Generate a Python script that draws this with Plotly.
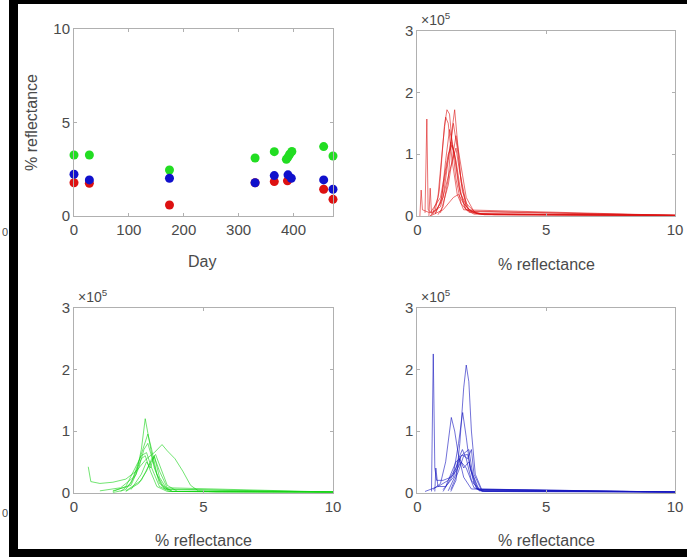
import plotly.graph_objects as go

W, H = 687, 557

# ---------------- Data ----------------
# Panel 1: % reflectance vs Day
days_green = [0, 28, 174, 330, 365, 387, 390, 393, 397, 455, 472]
refl_green = [3.26, 3.26, 2.46, 3.10, 3.44, 3.03, 3.15, 3.30, 3.45, 3.71, 3.21]
days_blue = [0, 28, 174, 330, 365, 390, 396, 455, 472]
refl_blue = [2.23, 1.93, 2.02, 1.78, 2.16, 2.20, 2.02, 1.93, 1.43]
days_red = [0, 28, 174, 330, 365, 389, 455, 472]
refl_red = [1.78, 1.75, 0.59, 1.78, 1.84, 1.88, 1.43, 0.89]

# Panels 2-4: histograms (x = % reflectance, y = counts in units of 1e5)
red_curves = [
    ([0.5, 0.7, 0.85, 0.95, 1.05, 1.15, 1.25, 1.35, 1.5, 1.7, 2.0, 2.5, 4.0, 10],
     [0.0, 0.1, 0.4, 0.9, 1.45, 1.72, 1.65, 1.2, 0.6, 0.2, 0.06, 0.03, 0.02, 0.01]),
    ([0.8, 1.0, 1.2, 1.35, 1.45, 1.55, 1.7, 1.9, 2.2, 3.0, 10],
     [0.02, 0.15, 0.6, 1.4, 1.72, 1.3, 0.55, 0.15, 0.05, 0.02, 0.01]),
    ([0.7, 1.0, 1.2, 1.4, 1.55, 1.75, 2.0, 2.5, 10],
     [0.05, 0.3, 0.9, 1.5, 1.1, 0.4, 0.1, 0.03, 0.01]),
    ([0.9, 1.2, 1.5, 1.7, 1.9, 2.2, 10],
     [0.05, 0.5, 1.3, 0.8, 0.3, 0.07, 0.01]),
    ([0.3, 0.37, 0.42, 0.6, 0.9, 1.1, 1.3, 1.45, 1.65, 1.9, 2.4, 10],
     [0.05, 1.57, 0.1, 0.03, 0.2, 0.7, 1.2, 1.0, 0.4, 0.1, 0.03, 0.01]),
    ([0.1, 0.15, 0.2, 0.5, 0.9, 1.2, 1.35, 1.5, 1.7, 2.0, 10],
     [0.0, 0.42, 0.1, 0.05, 0.3, 1.0, 1.15, 0.9, 0.35, 0.08, 0.01]),
    ([0.5, 1.0, 1.4, 1.6, 1.8, 2.1, 2.6, 10],
     [0.0, 0.1, 0.3, 0.35, 0.2, 0.07, 0.02, 0.01]),
    ([0.6, 0.8, 1.0, 1.1, 1.2, 1.35, 1.55, 1.8, 10],
     [0.05, 0.3, 1.2, 1.6, 1.5, 0.9, 0.35, 0.1, 0.01]),
    ([0.45, 0.5, 0.55, 0.9, 1.3, 1.5, 1.65, 1.9, 2.3, 10],
     [0.0, 0.45, 0.05, 0.15, 0.8, 1.1, 0.7, 0.2, 0.04, 0.01]),
    ([0.7, 0.95, 1.1, 1.25, 1.4, 1.6, 1.85, 2.2, 10],
     [0.03, 0.3, 0.9, 1.4, 1.1, 0.5, 0.12, 0.03, 0.01]),
]

green_curves = [
    ([0.55, 0.65, 1.0, 1.5, 2.0, 2.4, 2.8, 3.1, 3.4, 3.6, 3.9, 4.2, 4.5, 4.8, 5.5, 10],
     [0.42, 0.18, 0.15, 0.17, 0.22, 0.35, 0.55, 0.65, 0.78, 0.68, 0.55, 0.35, 0.12, 0.03, 0.01, 0.01]),
    ([1.5, 2.0, 2.4, 2.6, 2.75, 2.9, 3.1, 3.4, 3.8, 10],
     [0.0, 0.05, 0.3, 0.7, 1.2, 0.85, 0.4, 0.1, 0.02, 0.01]),
    ([1.5, 2.0, 2.3, 2.6, 2.8, 3.0, 3.3, 3.7, 10],
     [0.02, 0.1, 0.35, 0.6, 0.65, 0.4, 0.1, 0.02, 0.01]),
    ([1.8, 2.2, 2.5, 2.7, 2.85, 3.0, 3.2, 3.5, 10],
     [0.02, 0.15, 0.5, 0.75, 0.95, 0.7, 0.3, 0.06, 0.01]),
    ([2.0, 2.5, 2.8, 3.0, 3.15, 3.35, 3.6, 4.0, 10],
     [0.02, 0.15, 0.35, 0.55, 0.62, 0.4, 0.12, 0.02, 0.01]),
    ([1.0, 1.8, 2.3, 2.6, 2.75, 2.95, 3.2, 3.6, 10],
     [0.03, 0.08, 0.25, 0.55, 0.6, 0.35, 0.1, 0.02, 0.01]),
    ([2.0, 2.6, 2.9, 3.1, 3.3, 3.6, 10],
     [0.03, 0.2, 0.45, 0.58, 0.35, 0.08, 0.01]),
    ([1.5, 2.2, 2.5, 2.7, 2.85, 3.05, 3.3, 3.8, 10],
     [0.03, 0.12, 0.4, 0.7, 0.8, 0.5, 0.15, 0.02, 0.01]),
    ([2.2, 2.6, 2.8, 2.95, 3.1, 3.3, 3.6, 10],
     [0.05, 0.3, 0.5, 0.4, 0.6, 0.25, 0.05, 0.01]),
]

blue_curves = [
    ([0.55, 0.62, 0.68, 0.75, 1.0, 1.3, 1.5, 1.7, 1.9, 2.2, 2.6, 10],
     [0.02, 2.25, 0.4, 0.2, 0.2, 0.25, 0.35, 0.5, 0.4, 0.08, 0.02, 0.01]),
    ([1.3, 1.5, 1.65, 1.8, 1.9, 2.0, 2.1, 2.25, 2.5, 10],
     [0.02, 0.2, 0.8, 1.7, 2.07, 1.8, 1.0, 0.3, 0.05, 0.01]),
    ([0.6, 0.9, 1.1, 1.25, 1.32, 1.45, 1.6, 1.8, 2.1, 10],
     [0.05, 0.15, 0.5, 1.0, 1.22, 1.0, 0.6, 0.25, 0.06, 0.01]),
    ([1.0, 1.4, 1.6, 1.76, 1.9, 2.05, 2.3, 10],
     [0.02, 0.3, 0.8, 1.3, 0.9, 0.4, 0.06, 0.01]),
    ([1.0, 1.4, 1.6, 1.75, 1.9, 2.1, 2.4, 10],
     [0.05, 0.25, 0.55, 0.7, 0.55, 0.2, 0.03, 0.01]),
    ([1.2, 1.5, 1.7, 1.85, 2.0, 2.15, 2.4, 10],
     [0.03, 0.3, 0.6, 0.65, 0.7, 0.3, 0.04, 0.01]),
    ([0.3, 0.8, 1.2, 1.5, 1.7, 1.95, 2.1, 2.35, 10],
     [0.02, 0.1, 0.2, 0.4, 0.6, 0.62, 0.35, 0.05, 0.01]),
    ([0.68, 0.72, 0.8, 1.1, 1.5, 1.65, 1.8, 2.0, 2.2, 2.5, 10],
     [0.02, 0.4, 0.1, 0.1, 0.5, 0.55, 0.4, 0.5, 0.15, 0.02, 0.01]),
    ([1.3, 1.6, 1.8, 1.95, 2.1, 2.2, 2.5, 10],
     [0.05, 0.35, 0.6, 0.55, 0.7, 0.3, 0.03, 0.01]),
]

x_ticks_day = [0, 100, 200, 300, 400]
y_ticks_scatter = [0, 5, 10]
x_ticks_refl = [0, 5, 10]
y_ticks_hist = [0, 1e5, 2e5, 3e5]
y_ticklabels_hist = ["0", "1", "2", "3"]

# ---------------- Figure ----------------
FONT = "Liberation Sans, Arial, Helvetica, sans-serif"
TXT = "#4a4a4a"
AX = "#b0b0b0"

fig = go.Figure()

def px_x(p):
    return p / W

def px_y(p):
    return 1 - p / H

# Scatter panel
for d, v, c in [(days_green, refl_green, "#22dd22"),
                (days_red, refl_red, "#dd1111"),
                (days_blue, refl_blue, "#1010cc")]:
    fig.add_trace(go.Scatter(x=d, y=v, mode="markers", xaxis="x", yaxis="y",
                             marker=dict(size=9, color=c, line=dict(width=0)),
                             cliponaxis=False, showlegend=False))

def add_curves(curves, color, xa, ya):
    for xs, ys in curves:
        fig.add_trace(go.Scatter(x=xs, y=[v * 1e5 for v in ys], mode="lines",
                                 xaxis=xa, yaxis=ya,
                                 line=dict(color=color, width=1),
                                 showlegend=False))

add_curves(red_curves, "rgba(220,20,20,0.6)", "x2", "y2")
add_curves(green_curves, "rgba(20,210,20,0.6)", "x3", "y3")
add_curves(blue_curves, "rgba(20,20,190,0.6)", "x4", "y4")

def axis_common():
    return dict(showline=True, linecolor=AX, linewidth=1, mirror="ticks",
                ticks="inside", ticklen=3, tickcolor=AX, showgrid=False,
                zeroline=False, tickfont=dict(family=FONT, size=15, color=TXT))

L1, R1 = px_x(74), px_x(333)
L2, R2 = px_x(417.3), px_x(675)
T1, B1 = px_y(29), px_y(216)
T2, B2 = px_y(30.7), px_y(216)
T3, B3 = px_y(307.7), px_y(492.7)

fig.update_layout(
    autosize=True, margin=dict(l=0, r=0, t=0, b=0, autoexpand=False),
    paper_bgcolor="white", plot_bgcolor="white",
    xaxis=dict(domain=[L1, R1], anchor="y", range=[0, 472],
               tickvals=x_ticks_day, **axis_common()),
    yaxis=dict(domain=[B1, T1], anchor="x", range=[0, 10],
               tickvals=y_ticks_scatter, **axis_common()),
    xaxis2=dict(domain=[L2, R2], anchor="y2", range=[0, 10],
                tickvals=x_ticks_refl, **axis_common()),
    yaxis2=dict(domain=[B2, T2], anchor="x2", range=[0, 3e5],
                tickvals=y_ticks_hist, ticktext=y_ticklabels_hist, **axis_common()),
    xaxis3=dict(domain=[L1, R1], anchor="y3", range=[0, 10],
                tickvals=x_ticks_refl, **axis_common()),
    yaxis3=dict(domain=[B3, T3], anchor="x3", range=[0, 3e5],
                tickvals=y_ticks_hist, ticktext=y_ticklabels_hist, **axis_common()),
    xaxis4=dict(domain=[L2, R2], anchor="y4", range=[0, 10],
                tickvals=x_ticks_refl, **axis_common()),
    yaxis4=dict(domain=[B3, T3], anchor="x4", range=[0, 3e5],
                tickvals=y_ticks_hist, ticktext=y_ticklabels_hist, **axis_common()),
)

ann = []
def text(x, y, s, size=16, angle=0, xanchor="center", yanchor="middle"):
    ann.append(dict(x=px_x(x), y=px_y(y), xref="paper", yref="paper", text=s,
                    showarrow=False, textangle=angle, xanchor=xanchor, yanchor=yanchor,
                    font=dict(family=FONT, size=size, color=TXT)))

text(202, 262, "Day")
text(32, 123, "% reflectance", angle=-90)
text(546, 264, "% reflectance")
text(203, 540, "% reflectance")
text(546, 540, "% reflectance")
for (x, y) in [(419, 19), (419, 296), (76, 296)]:
    text(x, y, "×10<sup>5</sup>", size=14, xanchor="left")
# tick labels of a neighbouring figure at the far left edge
text(0, 232, "0", size=11, xanchor="left")
text(0, 513, "0", size=11, xanchor="left")
fig.update_layout(annotations=ann)

# black frame edges from the screenshot
shapes = [
    dict(type="rect", xref="paper", yref="paper", x0=px_x(9), x1=1, y0=px_y(4), y1=1,
         fillcolor="black", line=dict(width=0), layer="above"),
    dict(type="rect", xref="paper", yref="paper", x0=px_x(9), x1=px_x(18), y0=0, y1=1,
         fillcolor="black", line=dict(width=0), layer="above"),
    dict(type="rect", xref="paper", yref="paper", x0=px_x(9), x1=1, y0=0, y1=px_y(549),
         fillcolor="black", line=dict(width=0), layer="above"),
]
fig.update_layout(shapes=shapes)

post = ("document.documentElement.style.margin='0';"
        "document.documentElement.style.overflow='hidden';"
        "document.body.style.margin='0';document.body.style.padding='0';"
        "document.body.style.overflow='hidden';"
        "var gd=document.getElementById('{plot_id}');"
        "gd.style.width='100vw';gd.style.height='100vh';"
        "Plotly.Plots.resize(gd);")

fig.write_html("out.html", default_width="100vw", default_height="100vh",
               config={"displayModeBar": False, "responsive": True},
               post_script=post)
